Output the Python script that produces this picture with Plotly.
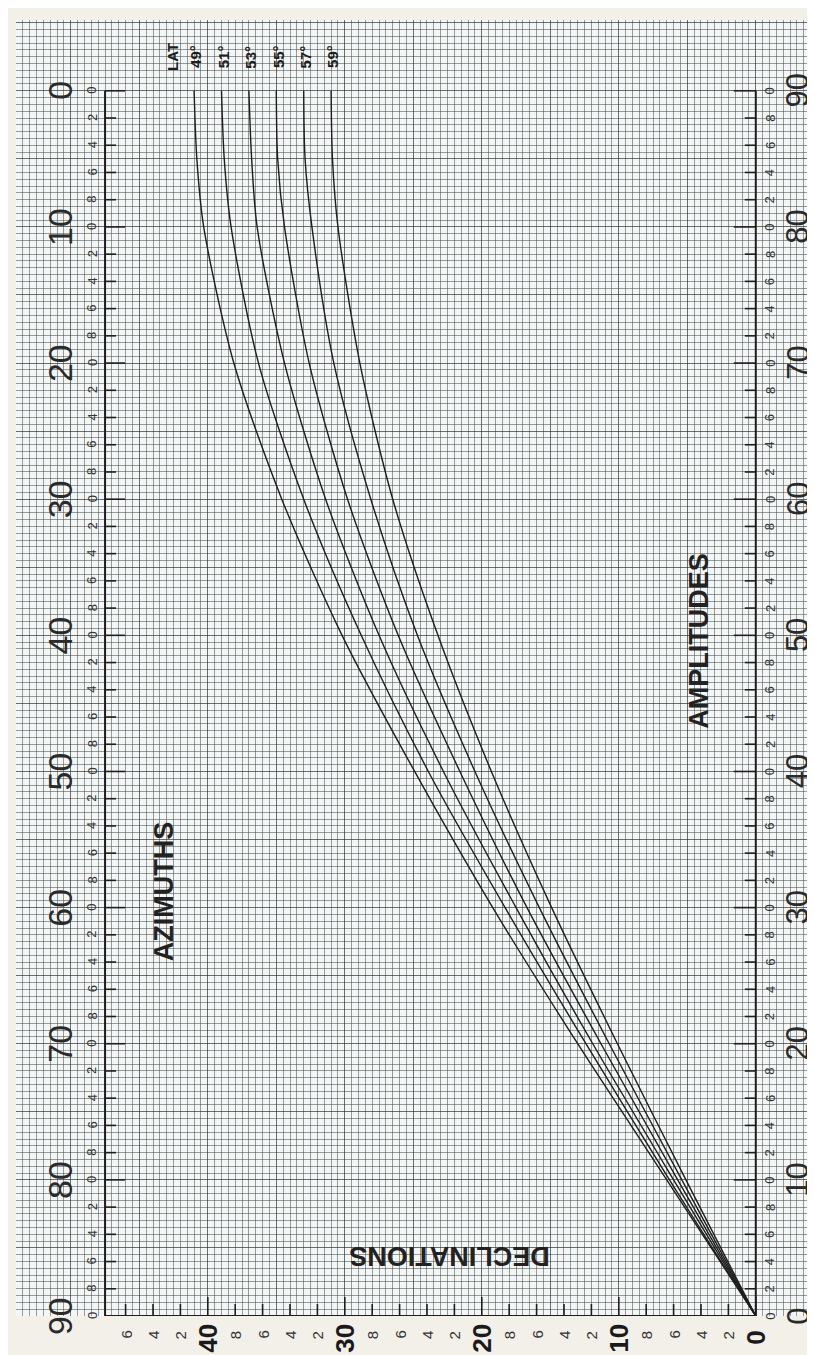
import plotly.graph_objects as go

# ---------------- data ----------------
LATITUDES = [49, 51, 53, 55, 57, 59]
AMPLITUDES = [0, 10, 20, 30, 40, 50, 60, 70, 80, 85, 90]
DEC_49 = [0, 6.5, 13.0, 19.2, 24.9, 30.2, 34.6, 38.1, 40.3, 40.8, 41.0]
DEC_51 = [0, 6.3, 12.4, 18.3, 23.9, 28.8, 33.0, 36.3, 38.3, 38.8, 39.0]
DEC_53 = [0, 6.0, 11.9, 17.5, 22.8, 27.5, 31.4, 34.4, 36.4, 36.8, 37.0]
DEC_55 = [0, 5.7, 11.3, 16.7, 21.6, 26.1, 29.8, 32.6, 34.4, 34.9, 35.0]
DEC_57 = [0, 5.4, 10.7, 15.8, 20.5, 24.7, 28.1, 30.8, 32.4, 32.9, 33.0]
DEC_59 = [0, 5.1, 10.1, 14.9, 19.3, 23.2, 26.5, 28.9, 30.5, 30.9, 31.0]
DEC_SERIES = [DEC_49, DEC_51, DEC_53, DEC_55, DEC_57, DEC_59]

AZIMUTH_TICKS = list(range(0, 91, 2))
AZIMUTH_MAJOR = [0, 10, 20, 30, 40, 50, 60, 70, 80, 90]
AMPLITUDE_TICKS = list(range(0, 91, 2))
AMPLITUDE_MAJOR = [0, 10, 20, 30, 40, 50, 60, 70, 80, 90]
DECLINATION_TICKS = list(range(0, 47, 2))
DECLINATION_MAJOR = [0, 10, 20, 30, 40]

# ---------------- styling / layout constants ----------------
INK = "#1e1e1e"
LEFT_AXIS_DEC = 47.5   # declination where the azimuth scale is drawn
FONT = "Liberation Sans, Arial, sans-serif"

fig = go.Figure()

for lat, decs in zip(LATITUDES, DEC_SERIES):
    fig.add_trace(go.Scatter(
        x=decs, y=AMPLITUDES, mode="lines", name=f"{lat}°",
        line=dict(color=INK, width=1.4, shape="spline", smoothing=0.8),
        showlegend=False, hoverinfo="skip"))

shapes = []
ann = []

# axis lines
shapes.append(dict(type="line", xref="x", yref="y", x0=LEFT_AXIS_DEC, x1=LEFT_AXIS_DEC,
                   y0=0, y1=90, line=dict(color=INK, width=2)))
shapes.append(dict(type="line", xref="x", yref="y", x0=0, x1=0, y0=0, y1=90,
                   line=dict(color=INK, width=2)))
shapes.append(dict(type="line", xref="x", yref="y", x0=0, x1=LEFT_AXIS_DEC, y0=0, y1=0,
                   line=dict(color=INK, width=2)))

# azimuth scale (left) : azimuth = 90 - amplitude
for az in AZIMUTH_TICKS:
    major = az in AZIMUTH_MAJOR
    shapes.append(dict(type="line", xref="x", yref="y", xsizemode="pixel",
                       xanchor=LEFT_AXIS_DEC, x0=0, x1=20 if major else 11,
                       y0=90 - az, y1=90 - az, line=dict(color=INK, width=1.6)))
    ann.append(dict(x=LEFT_AXIS_DEC, y=90 - az, xref="x", yref="y", xshift=-13,
                    text=str(az % 10), textangle=-90, showarrow=False,
                    xanchor="center", yanchor="middle",
                    font=dict(family=FONT, size=13, color="#333")))
for az in AZIMUTH_MAJOR:
    ann.append(dict(x=LEFT_AXIS_DEC, y=90 - az, xref="x", yref="y", xshift=-45,
                    text=str(az), textangle=-90, showarrow=False,
                    xanchor="center", yanchor="middle",
                    font=dict(family=FONT, size=34, color="#2a2a2a")))

# amplitude scale (right)
for a in AMPLITUDE_TICKS:
    major = a in AMPLITUDE_MAJOR
    shapes.append(dict(type="line", xref="x", yref="y", xsizemode="pixel",
                       xanchor=0, x0=0, x1=-22 if major else -11,
                       y0=a, y1=a, line=dict(color=INK, width=1.6)))
    ann.append(dict(x=0, y=a, xref="x", yref="y", xshift=14,
                    text=str(a % 10), textangle=-90, showarrow=False,
                    xanchor="center", yanchor="middle",
                    font=dict(family=FONT, size=13, color="#333")))
for a in AMPLITUDE_MAJOR:
    ann.append(dict(x=0, y=a, xref="x", yref="y", xshift=42,
                    text=str(a), textangle=-90, showarrow=False,
                    xanchor="center", yanchor="middle",
                    font=dict(family=FONT, size=31, color="#2a2a2a")))

# declination scale (bottom)
for d in DECLINATION_TICKS:
    major = d in DECLINATION_MAJOR
    shapes.append(dict(type="line", xref="x", yref="y", ysizemode="pixel",
                       yanchor=0, y0=0, y1=19 if major else 12,
                       x0=d, x1=d, line=dict(color=INK, width=1.6)))
    if not major:
        ann.append(dict(x=d, y=0, xref="x", yref="y", yshift=-19,
                        text=str(d % 10), textangle=-90, showarrow=False,
                        xanchor="center", yanchor="middle",
                        font=dict(family=FONT, size=15, color="#333")))
for d in DECLINATION_MAJOR:
    ann.append(dict(x=d, y=0, xref="x", yref="y", yshift=-22,
                    text=f"<b>{d}</b>", textangle=-90, showarrow=False,
                    xanchor="center", yanchor="middle",
                    font=dict(family=FONT, size=26, color="#1a1a1a")))

# latitude labels at top of each curve
ann.append(dict(x=DEC_49[-1], y=90, xref="x", yref="y", xshift=-21, yshift=34,
                text="<b>LAT</b>", textangle=-90, showarrow=False,
                xanchor="center", yanchor="middle",
                font=dict(family=FONT, size=15, color=INK)))
for lat, decs in zip(LATITUDES, DEC_SERIES):
    ann.append(dict(x=decs[-1], y=90, xref="x", yref="y", xshift=2, yshift=34,
                    text=f"<b>{lat}°</b>", textangle=-90, showarrow=False,
                    xanchor="center", yanchor="middle",
                    font=dict(family=FONT, size=15, color=INK)))

# scale titles
ann.append(dict(x=43.2, y=31.2, xref="x", yref="y", text="<b>AZIMUTHS</b>",
                textangle=-90, showarrow=False, xanchor="center", yanchor="middle",
                font=dict(family=FONT, size=27, color="#222")))
ann.append(dict(x=4.15, y=49.6, xref="x", yref="y", text="<b>AMPLITUDES</b>",
                textangle=-90, showarrow=False, xanchor="center", yanchor="middle",
                font=dict(family=FONT, size=27, color="#222")))
ann.append(dict(x=22.4, y=4.4, xref="x", yref="y", text="<b>DECLINATIONS</b>",
                textangle=180, showarrow=False, xanchor="center", yanchor="middle",
                font=dict(family=FONT, size=27, color="#222")))

GRID_MAJOR = "rgba(45,55,48,0.7)"
GRID_MINOR = "rgba(70,82,74,0.55)"

fig.update_layout(
    width=815, height=1355, autosize=False,
    margin=dict(l=8, r=2, t=12, b=47, pad=0),
    paper_bgcolor="#f3f0ea",
    plot_bgcolor="#f4f5f7",
    showlegend=False,
    shapes=shapes,
    annotations=ann,
    xaxis=dict(range=[54.0, -4.76], showticklabels=False, ticks="", zeroline=False,
               showline=False, showgrid=True, tick0=0, dtick=5,
               gridcolor=GRID_MAJOR, gridwidth=1.2,
               minor=dict(tick0=0, dtick=0.5, showgrid=True,
                          gridcolor=GRID_MINOR, gridwidth=1)),
    yaxis=dict(range=[0, 95.2], showticklabels=False, ticks="", zeroline=False,
               showline=False, showgrid=True, tick0=0, dtick=5,
               gridcolor=GRID_MAJOR, gridwidth=1.2,
               minor=dict(tick0=0, dtick=0.5, showgrid=True,
                          gridcolor=GRID_MINOR, gridwidth=1)),
)

fig.write_html("out.html")
